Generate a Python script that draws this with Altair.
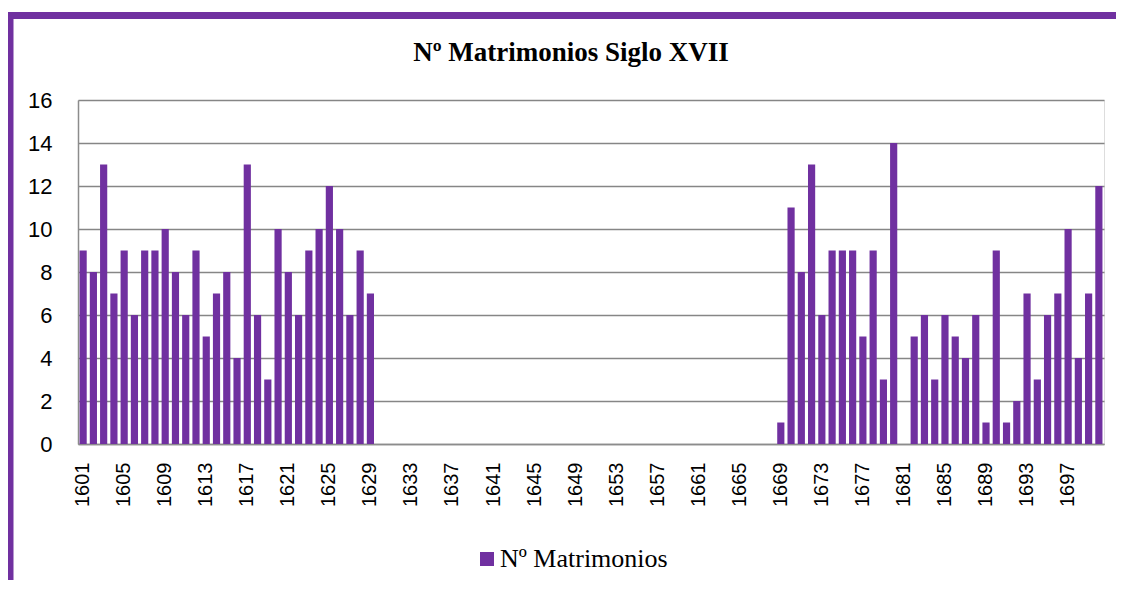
import altair as alt
import pandas as pd

years = list(range(1601, 1701))
values = [
    9, 8, 13, 7, 9, 6, 9, 9, 10, 8,      # 1601-1610
    6, 9, 5, 7, 8, 4, 13, 6, 3, 10,      # 1611-1620
    8, 6, 9, 10, 12, 10, 6, 9, 7, 0,     # 1621-1630
    0, 0, 0, 0, 0, 0, 0, 0, 0, 0,        # 1631-1640
    0, 0, 0, 0, 0, 0, 0, 0, 0, 0,        # 1641-1650
    0, 0, 0, 0, 0, 0, 0, 0, 0, 0,        # 1651-1660
    0, 0, 0, 0, 0, 0, 0, 0, 1, 11,       # 1661-1670
    8, 13, 6, 9, 9, 9, 5, 9, 3, 14,      # 1671-1680
    0, 5, 6, 3, 6, 5, 4, 6, 1, 9,        # 1681-1690
    1, 2, 7, 3, 6, 7, 10, 4, 7, 12,      # 1691-1700
]
tick_years = [1601, 1605, 1609, 1613, 1617, 1621, 1625, 1629, 1633, 1637,
              1641, 1645, 1649, 1653, 1657, 1661, 1665, 1669, 1673, 1677,
              1681, 1685, 1689, 1693, 1697]
y_ticks = [0, 2, 4, 6, 8, 10, 12, 14, 16]
series_name = "Nº Matrimonios"
title_text = "Nº Matrimonios Siglo XVII"

PURPLE = "#7030A0"
df = pd.DataFrame({"year": years, "value": values, "serie": series_name})

bars = alt.Chart(df).mark_bar(color=PURPLE).encode(
    x=alt.X("year:O", title=None,
            scale=alt.Scale(paddingInner=0.3, paddingOuter=0.15),
            axis=alt.Axis(values=tick_years, labelAngle=-90, labelFont="Liberation Sans",
                          labelFontSize=20, labelColor="#000000", labelPadding=18,
                          ticks=False, domainColor="#8c8c8c", domainWidth=1.5, grid=False)),
    y=alt.Y("value:Q", title=None,
            scale=alt.Scale(domain=[0, 16], nice=False),
            axis=alt.Axis(values=y_ticks, labelFont="Liberation Sans", labelFontSize=22,
                          labelColor="#000000", labelPadding=26, ticks=False,
                          domainColor="#8c8c8c", domainWidth=1.5,
                          gridColor="#868686", gridWidth=1.5)),
    color=alt.Color("serie:N", title=None,
                    scale=alt.Scale(range=[PURPLE]),
                    legend=alt.Legend(orient="none", legendX=396, legendY=446,
                                      symbolType="square", symbolSize=196,
                                      symbolStrokeWidth=0, padding=0,
                                      labelFont="Liberation Serif", labelFontSize=26,
                                      labelLimit=400,
                                      labelColor="#000000", labelOffset=0)),
)

frame_df = pd.DataFrame({"a": [0]})
title_mark = alt.Chart(frame_df).mark_text(
    text=title_text, font="Liberation Serif", fontSize=27, fontWeight="bold",
    color="#000000", align="center", baseline="middle"
).encode(x=alt.value(493), y=alt.value(-47))

top_border = alt.Chart(frame_df).mark_rule(color=PURPLE, strokeWidth=7).encode(
    x=alt.value(-70), x2=alt.value(1040), y=alt.value(-84.5)
)
left_border = alt.Chart(frame_df).mark_rule(color=PURPLE, strokeWidth=7).encode(
    x=alt.value(-68), y=alt.value(-88), y2=alt.value(490)
)

chart = alt.layer(bars, title_mark, top_border, left_border).properties(
    width=1026,
    height=344,
    autosize=alt.AutoSizeParams(type="none"),
    padding={"left": 70, "top": 92, "right": 12, "bottom": 136},
).configure_view(
    fill="#E4DFEC", stroke=None
).configure(background="white")

chart.save("out.html", embed_options={"renderer": "svg", "actions": False})
